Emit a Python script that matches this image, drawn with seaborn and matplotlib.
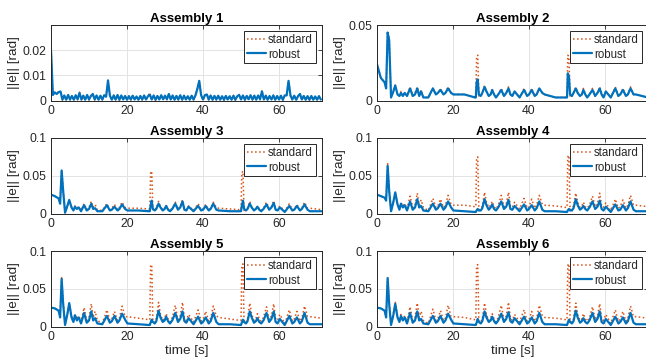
import numpy as np
import pandas as pd
import matplotlib
matplotlib.use("Agg")
import matplotlib.pyplot as plt
import seaborn as sns

# ---------------- data ----------------
TITLES = ["Assembly 1", "Assembly 2", "Assembly 3", "Assembly 4", "Assembly 5", "Assembly 6"]
SERIES = ["standard", "robust"]
XTICKS = [0, 20, 40, 60]
YTICKS_1 = [0, 0.01, 0.02]
YTICK_LABELS_1 = ["0", "0.01", "0.02"]
YTICKS_2 = [0, 0.05]
YTICK_LABELS_2 = ["0", "0.05"]
YTICKS_3 = [0, 0.05, 0.1]
YTICK_LABELS_3 = ["0", "0.05", "0.1"]
YMAX = [0.03, 0.05, 0.1, 0.1, 0.1, 0.1]
XMAX = 71.3

# sample times for Assembly 1 [s]
T1 = [0.0, 0.5, 1.0, 1.5, 2.0, 2.5, 3.0, 3.5, 4.0, 4.5,
      5.0, 5.5, 6.0, 6.5, 7.0, 7.5, 8.0, 8.5, 9.0, 9.5,
      10.0, 10.5, 11.0, 11.5, 12.0, 12.5, 13.0, 13.5, 14.0, 14.5,
      15.0, 15.5, 16.0, 16.5, 17.0, 17.5, 18.0, 18.5, 19.0, 19.5,
      20.0, 20.5, 21.0, 21.5, 22.0, 22.5, 23.0, 23.5, 24.0, 24.5,
      25.0, 25.5, 26.0, 26.5, 27.0, 27.5, 28.0, 28.5, 29.0, 29.5,
      30.0, 30.5, 31.0, 31.5, 32.0, 32.5, 33.0, 33.5, 34.0, 34.5,
      35.0, 35.5, 36.0, 36.5, 37.0, 37.5, 38.0, 38.5, 39.0, 39.5,
      40.0, 40.5, 41.0, 41.5, 42.0, 42.5, 43.0, 43.5, 44.0, 44.5,
      45.0, 45.5, 46.0, 46.5, 47.0, 47.5, 48.0, 48.5, 49.0, 49.5,
      50.0, 50.5, 51.0, 51.5, 52.0, 52.5, 53.0, 53.5, 54.0, 54.5,
      55.0, 55.5, 56.0, 56.5, 57.0, 57.5, 58.0, 58.5, 59.0, 59.5,
      60.0, 60.5, 61.0, 61.5, 62.0, 62.5, 63.0, 63.5, 64.0, 64.5,
      65.0, 65.5, 66.0, 66.5, 67.0, 67.5, 68.0, 68.5, 69.0, 69.5,
      70.0, 70.5, 71.0]

A1_STANDARD = [
    0.0210, 0.0024, 0.0034, 0.0036, 0.0030, 0.0034, 0.0001, 0.0021, 0.0001, 0.0021,
    0.0002, 0.0019, 0.0001, 0.0020, 0.0003, 0.0033, 0.0002, 0.0020, 0.0001, 0.0021,
    0.0002, 0.0019, 0.0023, 0.0002, 0.0021, 0.0001, 0.0018, 0.0002, 0.0020, 0.0013,
    0.0077, 0.0020, 0.0001, 0.0021, 0.0002, 0.0023, 0.0001, 0.0019, 0.0002, 0.0019,
    0.0001, 0.0018, 0.0002, 0.0020, 0.0002, 0.0017, 0.0001, 0.0019, 0.0002, 0.0021,
    0.0002, 0.0018, 0.0031, 0.0002, 0.0021, 0.0001, 0.0019, 0.0002, 0.0020, 0.0003,
    0.0020, 0.0003, 0.0028, 0.0002, 0.0019, 0.0001, 0.0019, 0.0002, 0.0022, 0.0001,
    0.0020, 0.0002, 0.0018, 0.0001, 0.0020, 0.0002, 0.0021, 0.0044, 0.0076, 0.0020,
    0.0001, 0.0022, 0.0027, 0.0002, 0.0021, 0.0001, 0.0019, 0.0002, 0.0020, 0.0001,
    0.0018, 0.0001, 0.0019, 0.0002, 0.0018, 0.0001, 0.0020, 0.0001, 0.0018, 0.0024,
    0.0002, 0.0021, 0.0001, 0.0019, 0.0003, 0.0022, 0.0002, 0.0020, 0.0001, 0.0021,
    0.0003, 0.0041, 0.0002, 0.0020, 0.0001, 0.0019, 0.0002, 0.0021, 0.0001, 0.0019,
    0.0002, 0.0020, 0.0001, 0.0021, 0.0019, 0.0076, 0.0019, 0.0001, 0.0020, 0.0001,
    0.0018, 0.0028, 0.0002, 0.0019, 0.0001, 0.0018, 0.0001, 0.0019, 0.0001, 0.0017,
    0.0001, 0.0018, 0.0002]

A1_ROBUST = [
    0.0200, 0.0022, 0.0032, 0.0026, 0.0033, 0.0036, 0.0004, 0.0020, 0.0003, 0.0022,
    0.0004, 0.0018, 0.0003, 0.0021, 0.0005, 0.0030, 0.0004, 0.0019, 0.0003, 0.0022,
    0.0004, 0.0018, 0.0026, 0.0004, 0.0020, 0.0003, 0.0019, 0.0004, 0.0021, 0.0015,
    0.0080, 0.0019, 0.0003, 0.0020, 0.0004, 0.0022, 0.0003, 0.0020, 0.0004, 0.0018,
    0.0003, 0.0017, 0.0004, 0.0019, 0.0004, 0.0016, 0.0003, 0.0018, 0.0004, 0.0020,
    0.0004, 0.0017, 0.0023, 0.0004, 0.0020, 0.0003, 0.0018, 0.0004, 0.0021, 0.0005,
    0.0019, 0.0005, 0.0026, 0.0004, 0.0020, 0.0003, 0.0018, 0.0004, 0.0021, 0.0003,
    0.0019, 0.0004, 0.0017, 0.0003, 0.0019, 0.0004, 0.0020, 0.0046, 0.0078, 0.0021,
    0.0004, 0.0021, 0.0024, 0.0004, 0.0020, 0.0003, 0.0018, 0.0004, 0.0019, 0.0003,
    0.0017, 0.0003, 0.0018, 0.0004, 0.0017, 0.0003, 0.0019, 0.0003, 0.0017, 0.0022,
    0.0004, 0.0020, 0.0003, 0.0018, 0.0005, 0.0021, 0.0004, 0.0019, 0.0003, 0.0020,
    0.0005, 0.0036, 0.0004, 0.0019, 0.0003, 0.0018, 0.0004, 0.0020, 0.0003, 0.0018,
    0.0004, 0.0019, 0.0003, 0.0020, 0.0021, 0.0078, 0.0020, 0.0004, 0.0019, 0.0003,
    0.0017, 0.0026, 0.0004, 0.0018, 0.0003, 0.0017, 0.0003, 0.0018, 0.0003, 0.0016,
    0.0003, 0.0017, 0.0004]

# sample times for Assemblies 2-6 [s]
T = [0.0, 1.0, 2.0, 2.4, 2.8, 3.2, 3.7, 4.3, 4.8, 5.4,
     5.9, 6.3, 6.8, 7.3, 7.9, 8.7, 9.4, 10.0, 10.6, 11.1,
     11.6, 12.2, 13.5, 14.7, 15.5, 16.0, 16.7, 17.5, 18.0, 18.7,
     19.5, 20.1,
     23.0, 25.8,
     26.0, 26.2, 26.5, 26.8,
     27.3, 27.7, 28.3, 28.8, 29.4, 29.9, 30.3, 30.8, 31.3, 31.9,
     32.7, 33.4, 34.0, 34.6, 35.1, 35.6, 36.2, 37.5, 38.7, 39.5,
     40.0, 40.7, 41.5, 42.0, 42.7, 43.5, 44.1,
     47.0, 49.8,
     50.0, 50.2, 50.5, 50.8,
     51.3, 51.7, 52.3, 52.8, 53.4, 53.9, 54.3, 54.8, 55.3, 55.9,
     56.7, 57.4, 58.0, 58.6, 59.1, 59.6, 60.2, 61.5, 62.7, 63.5,
     64.0, 64.7, 65.5, 66.0, 66.7, 67.5, 68.1,
     71.3]

A2_STANDARD = [
    0.024, 0.015, 0.012, 0.008, 0.046, 0.041, 0.002, 0.006, 0.010, 0.004,
    0.003, 0.006, 0.003, 0.005, 0.003, 0.009, 0.003, 0.005, 0.009, 0.003,
    0.007, 0.002, 0.002, 0.008, 0.004, 0.005, 0.008, 0.004, 0.005, 0.009,
    0.005, 0.004,
    0.004, 0.002,
    0.002, 0.029, 0.030, 0.003,
    0.003, 0.005, 0.010, 0.006, 0.003, 0.004, 0.007, 0.004, 0.002, 0.004,
    0.008, 0.003, 0.005, 0.009, 0.004, 0.003, 0.006, 0.002, 0.008, 0.003,
    0.004, 0.008, 0.003, 0.004, 0.008, 0.005, 0.004,
    0.002, 0.002,
    0.002, 0.030, 0.029, 0.002,
    0.003, 0.005, 0.009, 0.005, 0.003, 0.004, 0.008, 0.004, 0.002, 0.004,
    0.008, 0.003, 0.005, 0.009, 0.004, 0.002, 0.006, 0.002, 0.009, 0.003,
    0.004, 0.008, 0.003, 0.004, 0.009, 0.004, 0.004,
    0.002]
A2_ROBUST = [
    0.024, 0.015, 0.012, 0.008, 0.045, 0.040, 0.002, 0.006, 0.010, 0.004,
    0.003, 0.005, 0.003, 0.005, 0.003, 0.008, 0.003, 0.004, 0.008, 0.003,
    0.006, 0.002, 0.002, 0.008, 0.004, 0.005, 0.007, 0.004, 0.005, 0.008,
    0.005, 0.004,
    0.004, 0.002,
    0.002, 0.012, 0.014, 0.004,
    0.003, 0.005, 0.009, 0.006, 0.003, 0.004, 0.007, 0.004, 0.002, 0.004,
    0.007, 0.003, 0.005, 0.008, 0.004, 0.003, 0.006, 0.002, 0.007, 0.003,
    0.004, 0.007, 0.003, 0.004, 0.008, 0.005, 0.004,
    0.002, 0.002,
    0.002, 0.018, 0.016, 0.004,
    0.003, 0.005, 0.008, 0.005, 0.003, 0.004, 0.007, 0.004, 0.002, 0.004,
    0.007, 0.003, 0.005, 0.008, 0.004, 0.002, 0.006, 0.002, 0.008, 0.003,
    0.004, 0.007, 0.003, 0.004, 0.008, 0.004, 0.004,
    0.002]

A3_STANDARD = [
    0.025, 0.023, 0.020, 0.013, 0.058, 0.031, 0.002, 0.010, 0.018, 0.009,
    0.005, 0.010, 0.007, 0.009, 0.004, 0.013, 0.005, 0.008, 0.016, 0.008,
    0.012, 0.005, 0.004, 0.013, 0.005, 0.007, 0.012, 0.005, 0.008, 0.015,
    0.008, 0.007,
    0.007, 0.006,
    0.006, 0.054, 0.056, 0.004,
    0.005, 0.007, 0.016, 0.009, 0.005, 0.007, 0.011, 0.006, 0.004, 0.007,
    0.015, 0.006, 0.009, 0.018, 0.007, 0.005, 0.010, 0.004, 0.013, 0.005,
    0.006, 0.012, 0.005, 0.007, 0.015, 0.008, 0.007,
    0.006, 0.005,
    0.005, 0.054, 0.056, 0.004,
    0.005, 0.007, 0.016, 0.009, 0.005, 0.006, 0.010, 0.006, 0.004, 0.007,
    0.015, 0.006, 0.009, 0.017, 0.006, 0.005, 0.010, 0.003, 0.013, 0.005,
    0.006, 0.012, 0.005, 0.007, 0.015, 0.007, 0.007,
    0.005]
A3_ROBUST = [
    0.025, 0.023, 0.020, 0.013, 0.057, 0.030, 0.001, 0.010, 0.018, 0.008,
    0.004, 0.009, 0.006, 0.008, 0.003, 0.011, 0.004, 0.006, 0.013, 0.006,
    0.007, 0.003, 0.003, 0.011, 0.004, 0.005, 0.009, 0.004, 0.006, 0.012,
    0.006, 0.004,
    0.004, 0.003,
    0.003, 0.010, 0.017, 0.006,
    0.004, 0.006, 0.013, 0.008, 0.004, 0.006, 0.010, 0.005, 0.003, 0.006,
    0.013, 0.005, 0.008, 0.016, 0.005, 0.004, 0.009, 0.003, 0.010, 0.004,
    0.005, 0.010, 0.004, 0.006, 0.013, 0.005, 0.004,
    0.003, 0.003,
    0.003, 0.010, 0.017, 0.006,
    0.004, 0.006, 0.013, 0.008, 0.004, 0.006, 0.009, 0.005, 0.003, 0.006,
    0.012, 0.005, 0.008, 0.014, 0.005, 0.004, 0.008, 0.002, 0.010, 0.004,
    0.005, 0.010, 0.004, 0.006, 0.012, 0.005, 0.003,
    0.003]

A4_STANDARD = [
    0.025, 0.023, 0.021, 0.017, 0.066, 0.031, 0.003, 0.016, 0.028, 0.013,
    0.007, 0.014, 0.010, 0.013, 0.006, 0.023, 0.008, 0.011, 0.027, 0.011,
    0.018, 0.008, 0.004, 0.020, 0.008, 0.010, 0.019, 0.008, 0.011, 0.024,
    0.012, 0.011,
    0.011, 0.009,
    0.009, 0.073, 0.075, 0.005,
    0.006, 0.010, 0.028, 0.015, 0.008, 0.011, 0.016, 0.009, 0.006, 0.011,
    0.024, 0.009, 0.013, 0.028, 0.010, 0.008, 0.015, 0.006, 0.020, 0.007,
    0.009, 0.019, 0.007, 0.011, 0.024, 0.012, 0.011,
    0.010, 0.008,
    0.008, 0.075, 0.077, 0.005,
    0.006, 0.010, 0.027, 0.015, 0.008, 0.010, 0.015, 0.009, 0.007, 0.011,
    0.023, 0.009, 0.013, 0.027, 0.010, 0.008, 0.014, 0.004, 0.019, 0.007,
    0.009, 0.018, 0.007, 0.011, 0.024, 0.011, 0.011,
    0.009]
A4_ROBUST = [
    0.025, 0.023, 0.021, 0.017, 0.063, 0.030, 0.003, 0.015, 0.028, 0.012,
    0.005, 0.013, 0.008, 0.011, 0.004, 0.016, 0.005, 0.008, 0.019, 0.008,
    0.010, 0.004, 0.003, 0.013, 0.005, 0.007, 0.013, 0.005, 0.008, 0.016,
    0.008, 0.004,
    0.003, 0.002,
    0.002, 0.004, 0.006, 0.004,
    0.004, 0.007, 0.019, 0.011, 0.005, 0.008, 0.012, 0.006, 0.004, 0.008,
    0.016, 0.006, 0.009, 0.018, 0.006, 0.005, 0.010, 0.003, 0.012, 0.004,
    0.006, 0.011, 0.004, 0.007, 0.016, 0.005, 0.003,
    0.003, 0.002,
    0.002, 0.004, 0.006, 0.004,
    0.004, 0.007, 0.019, 0.011, 0.005, 0.007, 0.010, 0.006, 0.004, 0.008,
    0.016, 0.006, 0.009, 0.017, 0.006, 0.004, 0.009, 0.002, 0.012, 0.004,
    0.005, 0.011, 0.004, 0.007, 0.016, 0.005, 0.003,
    0.003]

A5_STANDARD = [
    0.025, 0.024, 0.021, 0.013, 0.066, 0.032, 0.003, 0.017, 0.031, 0.014,
    0.008, 0.016, 0.010, 0.014, 0.006, 0.025, 0.008, 0.012, 0.030, 0.012,
    0.020, 0.008, 0.004, 0.022, 0.008, 0.010, 0.020, 0.008, 0.011, 0.027,
    0.013, 0.013,
    0.011, 0.009,
    0.009, 0.080, 0.082, 0.006,
    0.006, 0.010, 0.032, 0.016, 0.008, 0.011, 0.017, 0.010, 0.006, 0.012,
    0.028, 0.009, 0.014, 0.032, 0.011, 0.008, 0.016, 0.006, 0.022, 0.007,
    0.009, 0.020, 0.007, 0.011, 0.027, 0.014, 0.012,
    0.010, 0.008,
    0.008, 0.080, 0.083, 0.006,
    0.006, 0.010, 0.031, 0.016, 0.008, 0.010, 0.017, 0.010, 0.007, 0.012,
    0.026, 0.009, 0.014, 0.030, 0.010, 0.008, 0.016, 0.004, 0.022, 0.007,
    0.010, 0.020, 0.007, 0.011, 0.027, 0.013, 0.013,
    0.011]
A5_ROBUST = [
    0.025, 0.024, 0.021, 0.012, 0.063, 0.030, 0.002, 0.016, 0.031, 0.012,
    0.006, 0.015, 0.008, 0.012, 0.004, 0.018, 0.005, 0.008, 0.020, 0.008,
    0.011, 0.004, 0.003, 0.014, 0.005, 0.007, 0.014, 0.005, 0.008, 0.017,
    0.009, 0.004,
    0.003, 0.002,
    0.002, 0.005, 0.009, 0.006,
    0.004, 0.007, 0.021, 0.012, 0.006, 0.008, 0.013, 0.007, 0.004, 0.008,
    0.018, 0.006, 0.010, 0.020, 0.007, 0.005, 0.011, 0.003, 0.013, 0.004,
    0.006, 0.012, 0.004, 0.007, 0.018, 0.006, 0.003,
    0.003, 0.002,
    0.002, 0.005, 0.009, 0.006,
    0.004, 0.007, 0.020, 0.012, 0.005, 0.007, 0.011, 0.006, 0.004, 0.008,
    0.018, 0.006, 0.010, 0.020, 0.006, 0.004, 0.010, 0.002, 0.014, 0.004,
    0.006, 0.012, 0.004, 0.007, 0.018, 0.005, 0.003,
    0.003]

A6_STANDARD = [
    0.025, 0.024, 0.021, 0.013, 0.066, 0.032, 0.003, 0.017, 0.033, 0.014,
    0.008, 0.016, 0.010, 0.014, 0.006, 0.026, 0.008, 0.012, 0.031, 0.012,
    0.020, 0.008, 0.004, 0.023, 0.008, 0.010, 0.021, 0.008, 0.011, 0.028,
    0.013, 0.013,
    0.012, 0.009,
    0.009, 0.080, 0.082, 0.006,
    0.006, 0.010, 0.031, 0.016, 0.008, 0.011, 0.017, 0.010, 0.006, 0.012,
    0.028, 0.009, 0.014, 0.032, 0.011, 0.008, 0.016, 0.006, 0.022, 0.007,
    0.009, 0.020, 0.007, 0.011, 0.028, 0.014, 0.012,
    0.011, 0.009,
    0.009, 0.081, 0.083, 0.006,
    0.006, 0.010, 0.031, 0.016, 0.008, 0.010, 0.017, 0.010, 0.007, 0.012,
    0.026, 0.009, 0.014, 0.030, 0.010, 0.008, 0.016, 0.004, 0.022, 0.007,
    0.010, 0.020, 0.007, 0.011, 0.027, 0.013, 0.013,
    0.011]
A6_ROBUST = [
    0.025, 0.024, 0.021, 0.012, 0.064, 0.030, 0.002, 0.015, 0.030, 0.012,
    0.006, 0.014, 0.008, 0.012, 0.004, 0.018, 0.005, 0.008, 0.020, 0.008,
    0.010, 0.004, 0.003, 0.014, 0.005, 0.007, 0.014, 0.005, 0.008, 0.017,
    0.009, 0.004,
    0.003, 0.002,
    0.002, 0.005, 0.010, 0.006,
    0.004, 0.007, 0.020, 0.012, 0.006, 0.008, 0.013, 0.007, 0.004, 0.008,
    0.017, 0.006, 0.010, 0.019, 0.007, 0.005, 0.011, 0.003, 0.013, 0.004,
    0.006, 0.012, 0.004, 0.007, 0.018, 0.006, 0.003,
    0.003, 0.002,
    0.002, 0.005, 0.009, 0.006,
    0.004, 0.007, 0.021, 0.012, 0.005, 0.007, 0.011, 0.006, 0.004, 0.008,
    0.018, 0.006, 0.010, 0.020, 0.006, 0.004, 0.010, 0.002, 0.013, 0.004,
    0.006, 0.012, 0.004, 0.007, 0.018, 0.005, 0.003,
    0.003]

# ---------------- style ----------------
sns.set_theme(style="whitegrid")
plt.rcParams['font.family'] = ['Liberation Sans', 'DejaVu Sans']

ORANGE = "#D95319"
BLUE = "#0072BD"
DARK = "#262626"

datasets = [
    (T1, A1_STANDARD, A1_ROBUST, YTICKS_1, YTICK_LABELS_1),
    (T, A2_STANDARD, A2_ROBUST, YTICKS_2, YTICK_LABELS_2),
    (T, A3_STANDARD, A3_ROBUST, YTICKS_3, YTICK_LABELS_3),
    (T, A4_STANDARD, A4_ROBUST, YTICKS_3, YTICK_LABELS_3),
    (T, A5_STANDARD, A5_ROBUST, YTICKS_3, YTICK_LABELS_3),
    (T, A6_STANDARD, A6_ROBUST, YTICKS_3, YTICK_LABELS_3),
]

W, H = 646, 364
fig = plt.figure(figsize=(W / 100, H / 100), dpi=100)
fig.patch.set_facecolor("white")

lefts = [51, 377]
tops = [25, 138, 251]
ax_w, ax_h = 271, 75.5

for k, (t, std, rob, yt, ylbl) in enumerate(datasets):
    row, col = divmod(k, 2)
    left = lefts[col] / W
    bottom = (H - tops[row] - ax_h) / H
    ax = fig.add_axes([left, bottom, ax_w / W, ax_h / H])
    ax.set_facecolor("white")

    df = pd.DataFrame({"t": t, SERIES[0]: std, SERIES[1]: rob})
    sns.lineplot(data=df, x="t", y=SERIES[0], ax=ax, color=ORANGE, linestyle=":",
                 linewidth=1.1, label=SERIES[0], estimator=None, sort=False)
    sns.lineplot(data=df, x="t", y=SERIES[1], ax=ax, color=BLUE, linestyle="-",
                 linewidth=1.6, label=SERIES[1], estimator=None, sort=False)

    ax.set_xlim(0, XMAX)
    ax.set_ylim(0, YMAX[k])
    ax.set_xticks(XTICKS)
    ax.set_xticklabels([str(v) for v in XTICKS])
    ax.set_yticks(yt)
    ax.set_yticklabels(ylbl)
    ax.tick_params(direction="in", length=3, width=0.6, top=True, right=True,
                   color=DARK, labelcolor=DARK, labelsize=8.8, pad=3)
    ax.grid(True, color="#E3E3E3", linewidth=0.7)
    for sp in ax.spines.values():
        sp.set_color(DARK)
        sp.set_linewidth(0.7)

    ax.set_title(TITLES[k], fontsize=9.5, fontweight="bold", color="black", pad=2.5)
    ax.set_ylabel("||e|| [rad]", fontsize=9.7, color=DARK, labelpad=2)
    if row == 2:
        ax.set_xlabel("time [s]", fontsize=9.7, color=DARK, labelpad=2)
    else:
        ax.set_xlabel("")

    leg = ax.legend(loc="upper right", fontsize=8.3, frameon=True, fancybox=False,
                    edgecolor=DARK, framealpha=1, handlelength=1.7,
                    handletextpad=0.15, labelspacing=0.2, borderpad=0.25,
                    borderaxespad=0.55)
    leg.get_frame().set_linewidth(0.7)
    for txt in leg.get_texts():
        txt.set_color(DARK)

fig.savefig("out.png", dpi=100, facecolor="white")
